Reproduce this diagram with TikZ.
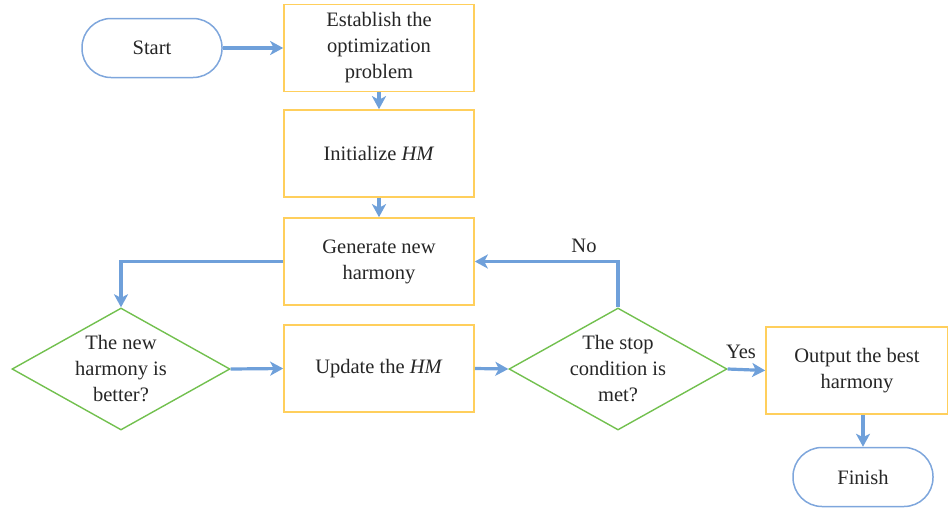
\documentclass[tikz,border=0pt]{standalone}
\usepackage{fontspec}
\setmainfont{Liberation Serif}
\usetikzlibrary{shapes.geometric,arrows.meta,positioning}
\definecolor{lineblue}{HTML}{6FA0DA}
\definecolor{boxorange}{HTML}{FFCF5C}
\definecolor{diagreen}{HTML}{72C04E}
\definecolor{termblue}{HTML}{7EA6DC}
\begin{document}
\begin{tikzpicture}[x=1pt,y=-1pt,
  every node/.style={font=\fontsize{20.5}{26}\selectfont, text=black!85, align=center},
  procbox/.style={draw=boxorange, line width=1.6pt, minimum width=190pt, minimum height=87pt, inner sep=0pt},
  termbox/.style={draw=termblue, line width=1.5pt, rounded corners=29pt, minimum width=140pt, minimum height=59pt},
  decbox/.style={draw=diagreen, line width=1.4pt, diamond, aspect=1.78, minimum width=218pt, minimum height=122pt, inner sep=0pt},
  flow/.style={draw=lineblue, line width=3.2pt, -{Stealth[length=13pt,width=14pt,inset=3.5pt]}},
  lbl/.style={font=\fontsize{20.5}{26}\selectfont}
]
\useasboundingbox (0,0) rectangle (948,509);
\node[termbox] (start) at (152,48) {Start};
\node[procbox] (estab) at (379,48) {Establish the\\optimization\\problem};
\node[procbox] (init) at (379,153.5) {Initialize \textit{HM}};
\node[procbox] (gen) at (379,261.5) {Generate new\\harmony};
\node[procbox] (upd) at (379,368.5) {Update the \textit{HM}};
\node[decbox] (better) at (121,369) {The new\\harmony is\\better?};
\node[decbox] (stop) at (618,369) {The stop\\condition is\\met?};
\node[procbox, minimum width=182pt] (out) at (857,370.5) {Output the best\\harmony};
\node[termbox] (fin) at (863,477) {Finish};
\coordinate (c1) at (121,261.5);
\coordinate (c2) at (618,261.5);

\draw[flow] (start.east) -- (estab.west);
\draw[flow] (estab.south) -- (init.north);
\draw[flow] (init.south) -- (gen.north);
\draw[flow] (gen.west) -- (c1) -- (better.north);
\draw[flow] (better.east) -- (upd.west);
\draw[flow] (upd.east) -- (stop.west);
\draw[flow] (stop.north) -- (c2) -- (gen.east);
\draw[flow] (stop.east) -- (out.west);
\draw[flow] (out.south -| fin.north) -- (fin.north);
\node[lbl] (no) at (584,246) {No};
\node[lbl] (yes) at (741,352) {Yes};
\end{tikzpicture}
\end{document}
